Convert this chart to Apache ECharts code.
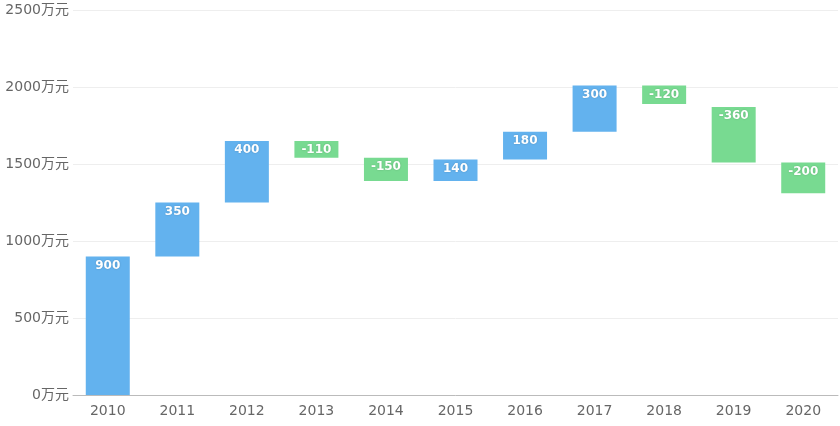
<!DOCTYPE html>
<html><head><meta charset="utf-8">
<script src="https://cdn.jsdelivr.net/npm/echarts@6/dist/echarts.min.js"></script>
<style>html,body{margin:0;padding:0;background:#fff}#c{width:840px;height:426px}</style>
</head><body><div id="c"></div>
<script>
const categories = ['2010','2011','2012','2013','2014','2015','2016','2017','2018','2019','2020'];
const changes = [900, 350, 400, -110, -150, 140, 180, 300, -120, -360, -200];
const bases = [0, 900, 1250, 1540, 1390, 1390, 1530, 1710, 1890, 1510, 1310];
const yTicks = [0, 500, 1000, 1500, 2000, 2500];

const chart = echarts.init(document.getElementById('c'));
chart.setOption({
  animation: false,
  grid: { left: 73, right: 2, top: 10, bottom: 31 },
  xAxis: {
    type: 'category', data: categories,
    axisLine: { lineStyle: { color: '#bbb' } },
    axisTick: { lineStyle: { color: '#ccc' } },
    axisLabel: { color: '#666', fontSize: 14, fontFamily: 'DejaVu Sans', margin: 9 }
  },
  yAxis: {
    type: 'value', min: yTicks[0], max: yTicks[yTicks.length - 1], interval: 500,
    axisLine: { show: false }, axisTick: { show: false },
    splitLine: { lineStyle: { color: '#eee' } },
    axisLabel: { color: '#666', fontSize: 14, fontFamily: 'DejaVu Sans, Noto Sans CJK SC',
      formatter: v => String(v) + '万元', margin: 4 }
  },
  series: [
    { type: 'bar', stack: 'w', barWidth: 44, itemStyle: { color: 'transparent' }, data: bases, silent: true },
    { type: 'bar', stack: 'w', barWidth: 44,
      data: changes.map(v => ({ value: Math.abs(v), itemStyle: { color: v < 0 ? '#78da91' : '#63b2ee' } })),
      label: { show: true, position: 'insideTop', distance: 3, color: '#fff', fontSize: 12, fontWeight: 'bold',
        fontFamily: 'DejaVu Sans',
        textShadowColor: 'rgba(0,0,0,0.2)', textShadowBlur: 2,
        formatter: p => String(changes[p.dataIndex]) } }
  ]
});
</script></body></html>
